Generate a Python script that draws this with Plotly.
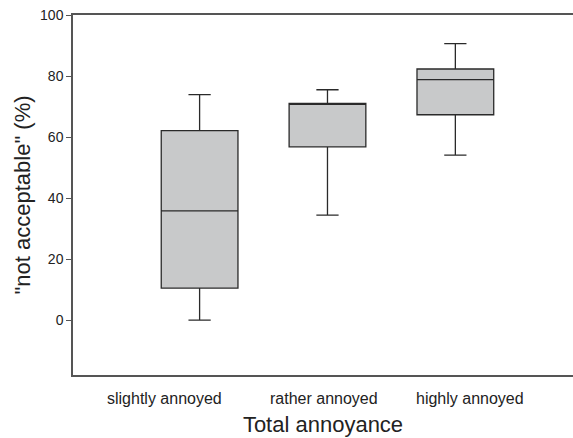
import plotly.graph_objects as go

categories = ["slightly annoyed", "rather annoyed", "highly annoyed"]
lower_whisker = [0.0, 34.4, 54.1]
q1_vals = [10.5, 56.8, 67.3]
median_vals = [35.8, 70.9, 78.8]
q3_vals = [62.1, 71.0, 82.3]
upper_whisker = [73.9, 75.5, 90.6]
y_ticks = [0, 20, 40, 60, 80, 100]
label_shift = [-35, -3, 15]

fig = go.Figure()
fig.add_trace(go.Box(
    x=categories,
    q1=q1_vals, median=median_vals, q3=q3_vals,
    lowerfence=lower_whisker, upperfence=upper_whisker,
    fillcolor="#c8c9ca",
    line=dict(color="#2a2a2a", width=1.3),
    width=0.6, whiskerwidth=0.29,
    boxpoints=False, showlegend=False, hoverinfo="skip",
))

for cat, dx in zip(categories, label_shift):
    fig.add_annotation(
        x=cat, xref="x", y=0, yref="paper", yanchor="top", xanchor="center",
        text=cat, showarrow=False, xshift=dx, yshift=-13,
        font=dict(size=16, color="#222222"),
    )

fig.update_layout(
    width=573, height=438,
    margin=dict(l=73, r=0, t=15, b=63, autoexpand=False),
    plot_bgcolor="white", paper_bgcolor="white",
    font=dict(family="Liberation Sans, Arial, sans-serif", color="#222222"),
    xaxis=dict(
        range=[-0.99, 2.92], showline=True, mirror=True, linecolor="#555555", linewidth=1.5,
        ticks="", showgrid=False, zeroline=False, automargin=False, showticklabels=False,
        title=dict(text="Total annoyance", font=dict(size=22, color="#222222"), standoff=41),
    ),
    yaxis=dict(
        range=[-18, 100], tickvals=y_ticks, showline=True, linecolor="#555555", linewidth=1.5,
        ticks="outside", ticklen=5, tickcolor="#555555", tickwidth=1.2,
        showgrid=False, zeroline=False, automargin=False,
        tickfont=dict(size=14, color="#222222"),
        title=dict(text='"not acceptable" (%)', font=dict(size=22, color="#222222"), standoff=3),
    ),
)

fig.write_html("out.html")
